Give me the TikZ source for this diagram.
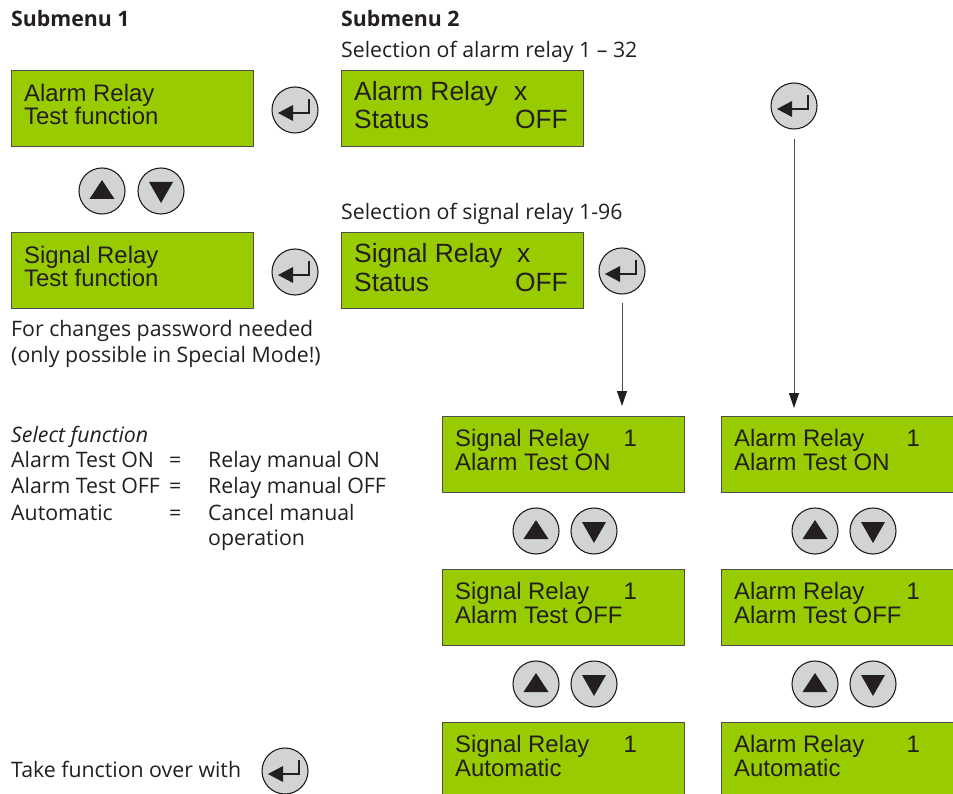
\documentclass[tikz,border=0pt]{standalone}
\usepackage{fontspec}
\setmainfont{Open Sans}
\newfontfamily\lcdfont{Liberation Sans}
\usetikzlibrary{arrows.meta,calc}
\definecolor{lcdgreen}{RGB}{153,204,0}
\definecolor{ink}{HTML}{231F20}
\definecolor{btnfill}{HTML}{D1D3D4}
\definecolor{frame}{HTML}{4D4D4D}
\begin{document}
\begin{tikzpicture}[x=1pt,y=-1pt,
  lcd/.style={draw=frame, line width=1.2pt, fill=lcdgreen, minimum width=242pt, minimum height=76pt, anchor=north west, inner sep=0pt},
  lcdtxt/.style={anchor=base west, inner sep=0pt, text=ink, font=\lcdfont\fontsize{23.9}{24}\selectfont},
  lcdnum/.style={anchor=base east, inner sep=0pt, text=ink, font=\lcdfont\fontsize{23.9}{24}\selectfont},
  lcdbig/.style={anchor=base west, inner sep=0pt, text=ink, font=\lcdfont\fontsize{26.4}{27}\selectfont},
  lcdbignum/.style={anchor=base east, inner sep=0pt, text=ink, font=\lcdfont\fontsize{26.4}{27}\selectfont},
  txt/.style={anchor=base west, inner sep=0pt, text=ink, font=\fontsize{21.3}{24}\selectfont},
  btn/.style={circle, draw=ink, line width=1.1pt, fill=btnfill, minimum size=46pt, inner sep=0pt},
  enterbtn/.style={btn, path picture={
      \fill[ink] ($(path picture bounding box.center)+(-17,3)$) -- ++(15,-8) -- ++(0,16) -- cycle;
      \draw[ink, line width=1.6pt] ($(path picture bounding box.center)+(-3,3)$) -- ++(17,0) -- ++(0,-14);}},
  upbtn/.style={btn, path picture={
      \fill[ink] ($(path picture bounding box.center)+(0,-11)$) -- ++(12.5,19) -- ++(-25,0) -- cycle;}},
  downbtn/.style={btn, path picture={
      \fill[ink] ($(path picture bounding box.center)+(0,12)$) -- ++(12,-21) -- ++(-24,0) -- cycle;}},
  flow/.style={draw=frame, line width=1pt, -{Triangle[length=15pt,width=10pt,color=ink]}}
]
\useasboundingbox (0,0) rectangle (953,794);

% headings
\node[txt, font=\bfseries\fontsize{21.3}{24}\selectfont] (h1) at (11,27) {Submenu 1};
\node[txt, font=\bfseries\fontsize{21.3}{24}\selectfont] (h2) at (341,27) {Submenu 2};
\node[txt] (selA) at (341,58) {Selection of alarm relay 1 – 32};
\node[txt] (selS) at (341,220) {Selection of signal relay 1-96};

% submenu 1
\node[lcd] (m1a) at (11,70) {};
\node[lcdtxt] (m1a1) at (24,101.5) {Alarm Relay};
\node[lcdtxt] (m1a2) at (24,124.5) {Test function};
\node[lcd] (m1s) at (11,232) {};
\node[lcdtxt] (m1s1) at (24,263.5) {Signal Relay};
\node[lcdtxt] (m1s2) at (24,286.5) {Test function};
\node[upbtn] (u0) at (102,191) {};
\node[downbtn] (d0) at (161,191) {};
\node[enterbtn] (e1) at (295,110) {};
\node[enterbtn] (e2) at (295,272) {};

\node[txt] (pw1) at (11,337) {For changes password needed};
\node[txt] (pw2) at (11,362) {(only possible in Special Mode!)};

% submenu 2
\node[lcd] (m2a) at (341,70) {};
\node[lcdbig] (m2a1) at (354,101) {Alarm Relay};
\node[lcdbig] (m2ax) at (514,101) {x};
\node[lcdbig] (m2a2) at (354,129) {Status};
\node[lcdbignum] (m2a3) at (568,129) {OFF};
\node[lcd] (m2s) at (341,232) {};
\node[lcdbig] (m2s1) at (354,263) {Signal Relay};
\node[lcdbig] (m2sx) at (517,263) {x};
\node[lcdbig] (m2s2) at (354,291) {Status};
\node[lcdbignum] (m2s3) at (568,291) {OFF};
\node[enterbtn] (e3) at (622,271) {};
\node[enterbtn] (e4) at (794,106) {};

% legend
\node[txt, font=\itshape\fontsize{21.3}{24}\selectfont] (sf) at (11,442) {Select function};
\node[txt] (l1a) at (11,467.5) {Alarm Test ON};
\node[txt] (l1b) at (169,467.5) {=};
\node[txt] (l1c) at (208,467.5) {Relay manual ON};
\node[txt] (l2a) at (11,493) {Alarm Test OFF};
\node[txt] (l2b) at (169,493) {=};
\node[txt] (l2c) at (208,493) {Relay manual OFF};
\node[txt] (l3a) at (11,520) {Automatic};
\node[txt] (l3b) at (169,520) {=};
\node[txt] (l3c) at (208,520) {Cancel manual};
\node[txt] (l4c) at (208,545) {operation};
\node[txt] (take) at (11,777) {Take function over with};
\node[enterbtn] (e5) at (285,771) {};

% signal column
\node[lcd] (s1) at (442,416) {};
\node[lcdtxt] (s1a) at (455,446.5) {Signal Relay};
\node[lcdnum] (s1n) at (637,446.5) {1};
\node[lcdtxt] (s1b) at (455,470.5) {Alarm Test ON};
\node[upbtn] (su1) at (536,531) {};
\node[downbtn] (sd1) at (594,531) {};
\node[lcd] (s2) at (442,569) {};
\node[lcdtxt] (s2a) at (455,599.5) {Signal Relay};
\node[lcdnum] (s2n) at (637,599.5) {1};
\node[lcdtxt] (s2b) at (455,623.5) {Alarm Test OFF};
\node[upbtn] (su2) at (536,684) {};
\node[downbtn] (sd2) at (594,684) {};
\node[lcd] (s3) at (442,722) {};
\node[lcdtxt] (s3a) at (455,752.5) {Signal Relay};
\node[lcdnum] (s3n) at (637,752.5) {1};
\node[lcdtxt] (s3b) at (455,776.5) {Automatic};

% alarm column
\node[lcd] (a1) at (721,416) {};
\node[lcdtxt] (a1a) at (734,446.5) {Alarm Relay};
\node[lcdnum] (a1n) at (920,446.5) {1};
\node[lcdtxt] (a1b) at (734,470.5) {Alarm Test ON};
\node[upbtn] (au1) at (815,531) {};
\node[downbtn] (ad1) at (873,531) {};
\node[lcd] (a2) at (721,569) {};
\node[lcdtxt] (a2a) at (734,599.5) {Alarm Relay};
\node[lcdnum] (a2n) at (920,599.5) {1};
\node[lcdtxt] (a2b) at (734,623.5) {Alarm Test OFF};
\node[upbtn] (au2) at (815,684) {};
\node[downbtn] (ad2) at (873,684) {};
\node[lcd] (a3) at (721,722) {};
\node[lcdtxt] (a3a) at (734,752.5) {Alarm Relay};
\node[lcdnum] (a3n) at (920,752.5) {1};
\node[lcdtxt] (a3b) at (734,776.5) {Automatic};

% connectors
\draw[flow, shorten <=8pt, shorten >=10pt] (e3.south) -- (e3.south |- s1.north);
\draw[flow, shorten <=9pt, shorten >=8pt] (e4.south) -- (e4.south |- a1.north);
\end{tikzpicture}
\end{document}
